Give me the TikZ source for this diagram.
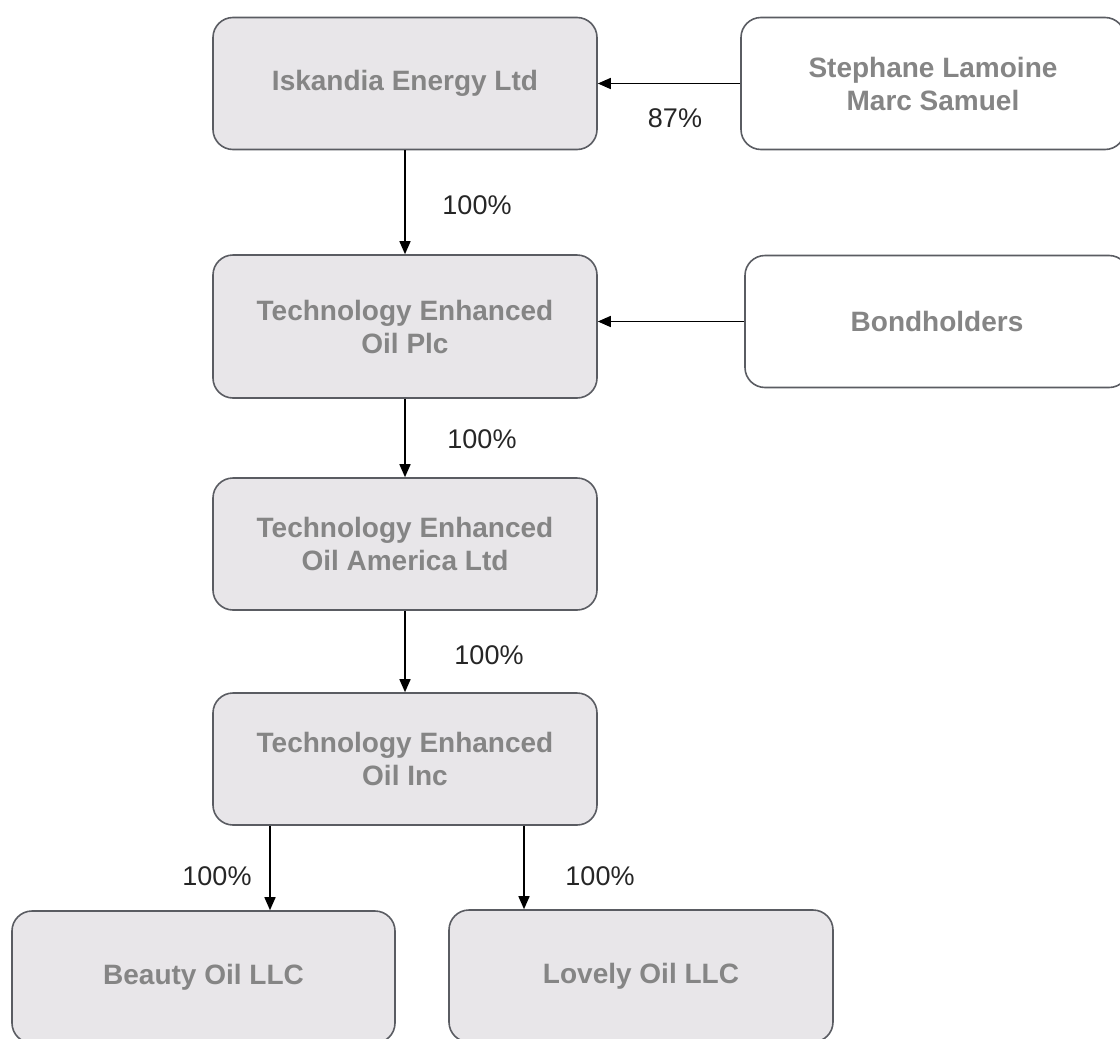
\documentclass[tikz,border=0pt]{standalone}
\usepackage{fontspec}
\setmainfont{Liberation Sans}
\usetikzlibrary{arrows.meta}
\definecolor{boxfill}{HTML}{E8E6E9}
\definecolor{boxline}{HTML}{5A5C62}
\definecolor{boxtext}{HTML}{858585}
\definecolor{lbltext}{HTML}{262626}
\begin{document}
\begin{tikzpicture}[x=1pt,y=-1pt,
  ent/.style={draw=boxline, line width=1.6pt, rounded corners=20pt, fill=boxfill,
    align=center, text=boxtext, font=\bfseries\fontsize{28}{33}\selectfont,
    inner sep=0pt, minimum width=384pt, minimum height=132pt},
  own/.style={ent, fill=white},
  arr/.style={line width=1.5pt, -{Triangle[width=11pt,length=13pt]}},
  lbl/.style={text=lbltext, font=\fontsize{27}{32}\selectfont, inner sep=0pt}]
\useasboundingbox[fill=white] (0,0) rectangle (1120,1039);
% entities
\node[ent] (isk) at (405,83.5) {Iskandia Energy Ltd};
\node[own] (sm) at (933,83.5) {Stephane Lamoine\\Marc Samuel};
\node[ent, minimum height=143pt] (plc) at (405,326.5) {Technology Enhanced\\Oil Plc};
\node[own] (bond) at (937,321.5) {Bondholders};
\node[ent] (amer) at (405,544) {Technology Enhanced\\Oil America Ltd};
\node[ent] (inc) at (405,759) {Technology Enhanced\\Oil Inc};
\node[ent, minimum width=383pt] (beauty) at (203.5,977) {Beauty Oil LLC};
\node[ent] (lovely) at (641,976) {Lovely Oil LLC};
% helper coordinates
\coordinate (bx) at (270,0);
\coordinate (lx) at (524,0);
% connectors
\draw[arr] (sm.west) -- (isk.east);
\draw[arr] (isk.south) -- (plc.north);
\draw[arr] (bond.west) -- (bond.west -| plc.east);
\draw[arr] (plc.south) -- (amer.north);
\draw[arr] (amer.south) -- (inc.north);
\draw[arr] (inc.south -| bx) -- (beauty.north -| bx);
\draw[arr] (inc.south -| lx) -- (lovely.north -| lx);
% labels
\node[lbl] (l1) at (675,118) {87\%};
\node[lbl] (l2) at (477,205) {100\%};
\node[lbl] (l3) at (482,439) {100\%};
\node[lbl] (l4) at (489,655) {100\%};
\node[lbl] (l5) at (217,876) {100\%};
\node[lbl] (l6) at (600,876) {100\%};
\end{tikzpicture}
\end{document}
